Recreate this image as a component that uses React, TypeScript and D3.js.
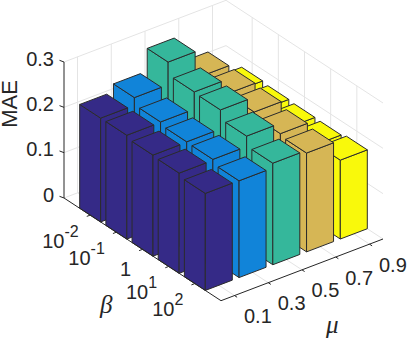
import React from "react";
import * as d3 from "d3";

const muLabels = ["0.1", "0.3", "0.5", "0.7", "0.9"];
const betaLabels: [string, string][] = [["10", "-2"], ["10", "-1"], ["1", ""], ["10", "1"], ["10", "2"]];
const zTicks = [0, 0.1, 0.2, 0.3];
const colors = ["#352a87", "#1184d9", "#35b79b", "#d6b655", "#f9f90b"];

const mu01 = [0.229, 0.229, 0.223, 0.221, 0.214];
const mu03 = [0.246, 0.23, 0.224, 0.223, 0.2135];
const mu05 = [0.296, 0.268, 0.266, 0.246, 0.224];
const mu07 = [0.237, 0.236, 0.233, 0.223, 0.218];
const mu09 = [0.175, 0.172, 0.17, 0.169, 0.174];
const values = [mu01, mu03, mu05, mu07, mu09];

const W = 407, H = 339;
const FX = 221, FY = 300.7;
const HALF = 0.4;
const font = "'Liberation Sans', Arial, sans-serif";
const serif = "'Liberation Serif', 'Times New Roman', serif";
const ink = "#262626";
const grid = "#e4e4e4";
const edge = "#2b2b2b";

// bar position index -> pixel offset along each of the three projected axes
const muX = d3.scaleLinear().domain([0.6, 5.4]).range([0, 162]);
const muY = d3.scaleLinear().domain([0.6, 5.4]).range([0, -61.7]);
const betaX = d3.scaleLinear().domain([6, 0]).range([0, -157]);
const betaY = d3.scaleLinear().domain([6, 0]).range([0, -102.7]);
const zY = d3.scaleLinear().domain([0, 0.3]).range([0, -136]);

type P = [number, number];
const proj = (m: number, b: number, z: number): P => [
  FX + muX(m) + betaX(b),
  FY + muY(m) + betaY(b) + zY(z),
];
const seg = (a: P, c: P, stroke: string, key: string, w = 1) => (
  <line key={key} x1={a[0]} y1={a[1]} x2={c[0]} y2={c[1]} stroke={stroke} strokeWidth={w} />
);
const poly = (pts: P[]) => pts.map((p) => p.join(",")).join(" ");

const M0 = 0.6, M1 = 5.4, B0 = 0, B1 = 6;

export default function App() {
  const idx = d3.range(1, 6);
  const grids: React.ReactNode[] = [];
  zTicks.forEach((z) => {
    grids.push(seg(proj(M0, B0, z), proj(M1, B0, z), grid, `zb${z}`));
    grids.push(seg(proj(M1, B0, z), proj(M1, B1, z), grid, `zr${z}`));
  });
  idx.forEach((i) => {
    grids.push(seg(proj(i, B0, 0), proj(i, B0, 0.3), grid, `mw${i}`));
    grids.push(seg(proj(i, B0, 0), proj(i, B1, 0), grid, `mf${i}`));
    grids.push(seg(proj(M1, i, 0), proj(M1, i, 0.3), grid, `bw${i}`));
    grids.push(seg(proj(M0, i, 0), proj(M1, i, 0), grid, `bf${i}`));
  });

  const bars: React.ReactNode[] = [];
  for (let mi = 4; mi >= 0; mi--) {
    for (let bi = 0; bi < 5; bi++) {
      const m = mi + 1, b = bi + 1, v = values[mi][bi];
      const m0 = m - HALF, m1 = m + HALF, b0 = b - HALF, b1 = b + HALF;
      const common = { fill: colors[mi], stroke: edge, strokeWidth: 1, strokeLinejoin: "round" as const };
      bars.push(
        <g key={`${mi}-${bi}`}>
          <polygon {...common} points={poly([proj(m0, b0, v), proj(m0, b1, v), proj(m0, b1, 0), proj(m0, b0, 0)])} />
          <polygon {...common} points={poly([proj(m0, b1, v), proj(m1, b1, v), proj(m1, b1, 0), proj(m0, b1, 0)])} />
          <polygon {...common} points={poly([proj(m0, b0, v), proj(m1, b0, v), proj(m1, b1, v), proj(m0, b1, v)])} />
        </g>
      );
    }
  }

  return (
    <svg width={W} height={H} viewBox={`0 0 ${W} ${H}`} style={{ position: "absolute", left: 0, top: 0, background: "#fff" }}>
      {grids}
      {bars}
      {seg(proj(M0, B0, 0), proj(M0, B0, 0.3), ink, "zaxis")}
      {seg(proj(M0, B0, 0), proj(M0, B1, 0), ink, "baxis")}
      {seg(proj(M0, B1, 0), proj(M1, B1, 0), ink, "maxis")}
      {zTicks.map((z) => {
        const p = proj(M0, B0, z);
        return (
          <g key={z}>
            <line x1={p[0] - 4.5} y1={p[1] - 1.7} x2={p[0]} y2={p[1]} stroke={ink} />
            <text x={p[0] - 10} y={p[1] + 3.5} textAnchor="end" fontFamily={font} fontSize={20} fill={ink}>{z}</text>
          </g>
        );
      })}
      {muLabels.map((t, i) => {
        const p = proj(i + 1, B1, 0);
        return (
          <g key={t}>
            <line x1={p[0]} y1={p[1]} x2={p[0] + 2.6} y2={p[1] + 1.7} stroke={ink} />
            <text x={p[0] + 9.5} y={p[1] + 27.6} fontFamily={font} fontSize={20} fill={ink}>{t}</text>
          </g>
        );
      })}
      {betaLabels.map(([base, exp], i) => {
        const p = proj(M0, i + 1, 0);
        return (
          <g key={i}>
            <line x1={p[0]} y1={p[1]} x2={p[0] - 3.4} y2={p[1] + 1.3} stroke={ink} />
            <text x={p[0] - 11.5} y={p[1] + (exp ? 32.5 : 27)} textAnchor="end" fontFamily={font} fontSize={20} fill={ink}>
              {base}
              {exp && <tspan dy={-11} fontSize={16}>{exp}</tspan>}
            </text>
          </g>
        );
      })}
      <text transform="translate(17,104) rotate(-90)" textAnchor="middle" fontFamily={font} fontSize={22} fill={ink}>MAE</text>
      <text x={100} y={313} fontFamily={serif} fontStyle="italic" fontSize={25} fill={ink}>β</text>
      <text x={326} y={333} fontFamily={serif} fontStyle="italic" fontSize={25} fill={ink}>μ</text>
    </svg>
  );
}
